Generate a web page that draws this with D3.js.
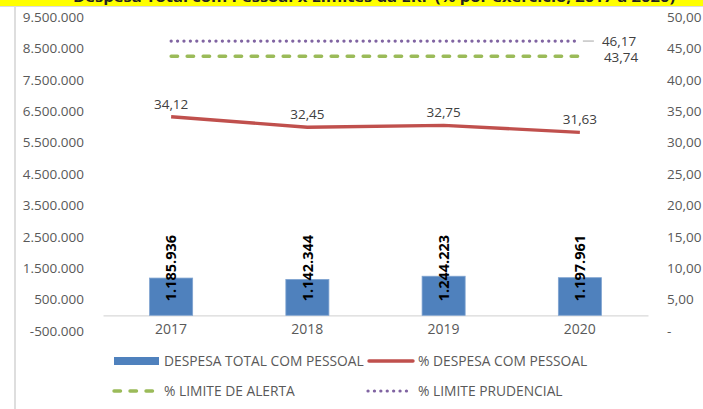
<!DOCTYPE html>
<html>
<head>
<meta charset="utf-8">
<script src="https://cdn.jsdelivr.net/npm/d3@7"></script>
<style>
  body { margin: 0; background: #fff; }
  text { font-family: "Open Sans", "Liberation Sans", sans-serif; }
</style>
</head>
<body>
<script>
// dados
var anos = ["2017", "2018", "2019", "2020"];
var despesaTotal = [1185936, 1142344, 1244223, 1197961];
var pctDespesa = [34.12, 32.45, 32.75, 31.63];
var limiteAlerta = [43.74, 43.74, 43.74, 43.74];
var limitePrudencial = [46.17, 46.17, 46.17, 46.17];
var ticksEsq = d3.range(-500000, 9500001, 1000000);
var ticksDir = d3.range(0, 51, 5);
var titulo = "Despesa Total com Pessoal x Limites da LRF (% por exercício, 2017 a 2020)";

var width = 703, height = 409;

var br = d3.formatLocale({decimal: ",", thousands: ".", grouping: [3], currency: ["R$ ", ""], minus: "-"});
var fmtInt = br.format(",.0f");
var fmtDec = br.format(",.2f");

var svg = d3.select("body").append("svg")
    .attr("width", width)
    .attr("height", height);

// faixa amarela do titulo (cortada no topo, como no original)
svg.append("rect").attr("x", 0).attr("y", 0).attr("width", width).attr("height", 6).attr("fill", "#ffff00");
svg.append("text")
    .attr("x", 73).attr("y", 1.5)
    .attr("textLength", 602).attr("lengthAdjust", "spacingAndGlyphs")
    .style("font-size", "15px").style("font-weight", "bold").attr("fill", "#222")
    .text(titulo);
svg.append("line").attr("x1", 0).attr("x2", width).attr("y1", 6.5).attr("y2", 6.5)
    .attr("stroke", "#dcdcdc").attr("stroke-width", 1);
svg.append("line").attr("x1", 15).attr("x2", 15).attr("y1", 7).attr("y2", height)
    .attr("stroke", "#dedede").attr("stroke-width", 2);

// escalas
var x = d3.scaleBand().domain(anos).range([103, 648]).paddingInner(0.684).paddingOuter(0.342);
var yEsq = d3.scaleLinear().domain([-500000, 9500000]).range([331, 17]);
var yDir = d3.scaleLinear().domain([0, 50]).range([331, 17]);
function cx(d) { return x(d) + x.bandwidth() / 2; }

// eixo esquerdo
var eixoEsq = d3.axisLeft(yEsq).tickValues(ticksEsq).tickFormat(fmtInt).tickSize(0).tickPadding(0);
var gE = svg.append("g").attr("transform", "translate(84,0)").call(eixoEsq);
gE.select(".domain").remove();
gE.selectAll("text").style("font-size", "13.5px").attr("fill", "#595959");

// eixo direito
var eixoDir = d3.axisRight(yDir).tickValues(ticksDir)
    .tickFormat(function(d) { return d === 0 ? "-" : fmtDec(d); })
    .tickSize(0).tickPadding(0);
var gD = svg.append("g").attr("transform", "translate(667,0)").call(eixoDir);
gD.select(".domain").remove();
gD.selectAll("text").style("font-size", "13.5px").attr("fill", "#595959");

// eixo x
var eixoX = d3.axisBottom(x).tickSize(0).tickPadding(0);
var gX = svg.append("g").attr("transform", "translate(0," + yEsq(0) + ")").call(eixoX);
gX.select(".domain").attr("stroke", "#d9d9d9").attr("stroke-width", 1.2);
gX.selectAll("text").attr("dy", "1.35em").style("font-size", "14px").attr("fill", "#595959");

// barras
svg.selectAll("rect.barra")
    .data(despesaTotal)
    .enter().append("rect")
    .attr("class", "barra")
    .attr("x", function(d, i) { return x(anos[i]); })
    .attr("y", function(d) { return yEsq(d); })
    .attr("width", x.bandwidth())
    .attr("height", function(d) { return yEsq(0) - yEsq(d); })
    .attr("fill", "#4f81bd")
    .attr("stroke", "#7fa3d0").attr("stroke-width", 0.8);

svg.selectAll("text.rotulo-barra")
    .data(despesaTotal)
    .enter().append("text")
    .attr("class", "rotulo-barra")
    .attr("transform", function(d, i) { return "translate(" + cx(anos[i]) + "," + (yEsq(0) - 14) + ") rotate(-90)"; })
    .attr("dy", "0.36em")
    .style("font-size", "14.5px").style("font-weight", "bold").attr("fill", "#000")
    .text(function(d) { return fmtInt(d); });

// linhas
var linha = d3.line()
    .x(function(d, i) { return cx(anos[i]); })
    .y(function(d) { return yDir(d); });

svg.append("path").datum(limitePrudencial).attr("d", linha)
    .attr("fill", "none").attr("stroke", "#8064a2").attr("stroke-width", 3.2)
    .attr("stroke-linecap", "round").attr("stroke-dasharray", "0.1 6.3");

svg.append("path").datum(limiteAlerta).attr("d", linha)
    .attr("fill", "none").attr("stroke", "#9bbb59").attr("stroke-width", 3.4)
    .attr("stroke-linecap", "round").attr("stroke-dasharray", "6.5 9.5");

svg.append("path").datum(pctDespesa).attr("d", linha)
    .attr("fill", "none").attr("stroke", "#c0504d").attr("stroke-width", 3.4)
    .attr("stroke-linejoin", "round");

// rotulos da linha
svg.selectAll("text.rotulo-linha")
    .data(pctDespesa)
    .enter().append("text")
    .attr("class", "rotulo-linha")
    .attr("x", function(d, i) { return cx(anos[i]); })
    .attr("y", function(d) { return yDir(d) - 8; })
    .attr("text-anchor", "middle")
    .style("font-size", "13.5px").attr("fill", "#404040")
    .text(function(d) { return fmtDec(d); });

// rotulos dos limites
var ultimo = anos[anos.length - 1];
svg.append("line")
    .attr("x1", cx(ultimo) + 3).attr("x2", cx(ultimo) + 14)
    .attr("y1", yDir(limitePrudencial[3])).attr("y2", yDir(limitePrudencial[3]))
    .attr("stroke", "#a6a6a6").attr("stroke-width", 1);
svg.append("text")
    .attr("x", cx(ultimo) + 22).attr("y", yDir(limitePrudencial[3]) + 5)
    .style("font-size", "13.5px").attr("fill", "#404040")
    .text(fmtDec(limitePrudencial[3]));
svg.append("text")
    .attr("x", cx(ultimo) + 24).attr("y", yDir(limiteAlerta[3]) + 6)
    .style("font-size", "13.5px").attr("fill", "#404040")
    .text(fmtDec(limiteAlerta[3]));

// legenda
var legenda = svg.append("g").style("font-size", "13.8px");
legenda.append("rect").attr("x", 114).attr("y", 357).attr("width", 45).attr("height", 8).attr("fill", "#4f81bd");
legenda.append("text").attr("x", 164).attr("y", 366).attr("fill", "#595959").text("DESPESA TOTAL COM PESSOAL");
legenda.append("line").attr("x1", 369).attr("x2", 413).attr("y1", 361).attr("y2", 361)
    .attr("stroke", "#c0504d").attr("stroke-width", 3.4).attr("stroke-linecap", "round");
legenda.append("text").attr("x", 418).attr("y", 366).attr("fill", "#595959").text("% DESPESA COM PESSOAL");
legenda.append("line").attr("x1", 114).attr("x2", 157).attr("y1", 391).attr("y2", 391)
    .attr("stroke", "#9bbb59").attr("stroke-width", 3.4).attr("stroke-linecap", "round")
    .attr("stroke-dasharray", "6.5 9.5");
legenda.append("text").attr("x", 164).attr("y", 396).attr("fill", "#595959").text("% LIMITE DE ALERTA");
legenda.append("line").attr("x1", 368).attr("x2", 410).attr("y1", 391).attr("y2", 391)
    .attr("stroke", "#8064a2").attr("stroke-width", 3.2).attr("stroke-linecap", "round")
    .attr("stroke-dasharray", "0.1 6.3");
legenda.append("text").attr("x", 418).attr("y", 396).attr("fill", "#595959").text("% LIMITE PRUDENCIAL");
</script>
</body>
</html>
